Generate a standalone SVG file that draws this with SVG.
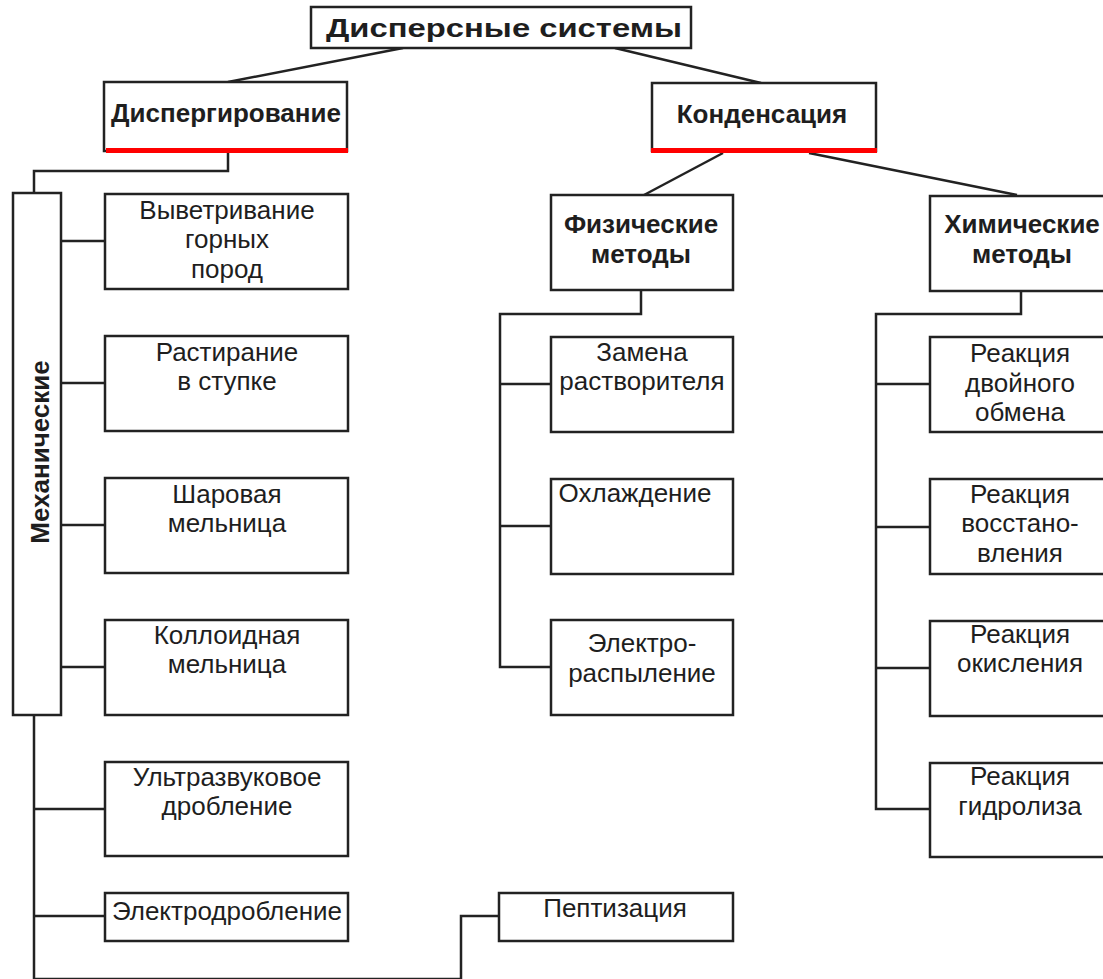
<svg xmlns="http://www.w3.org/2000/svg" width="1103" height="979" viewBox="0 0 1103 979">
<style>
.box{fill:#fff;stroke:#222;stroke-width:2.5}
.conn{fill:none;stroke:#222;stroke-width:2.5}
.red{fill:#ff0000}
.t{font-family:"Liberation Sans",Arial,sans-serif;font-size:26px;fill:#1e1e1e;text-anchor:middle}
.b{font-weight:bold}
</style>
<rect x="0" y="0" width="1103" height="979" fill="#fff"/>
<g id="connectors">
<line class="conn" x1="403" y1="48" x2="228" y2="82"/>
<line class="conn" x1="615" y1="48" x2="761" y2="83"/>
<polyline class="conn" points="228,153 228,171 34,171 34,193"/>
<line class="conn" x1="61" y1="241" x2="105" y2="241"/>
<line class="conn" x1="61" y1="383" x2="105" y2="383"/>
<line class="conn" x1="61" y1="525" x2="105" y2="525"/>
<line class="conn" x1="61" y1="667" x2="105" y2="667"/>
<polyline class="conn" points="34,715 34,979 461,979 461,916 499,916"/>
<line class="conn" x1="34" y1="809" x2="105" y2="809"/>
<line class="conn" x1="34" y1="916" x2="105" y2="916"/>
<line class="conn" x1="723" y1="153" x2="644" y2="195"/>
<line class="conn" x1="809" y1="153" x2="1017" y2="195"/>
<polyline class="conn" points="641,290 641,314 500,314 500,667 551,667"/>
<line class="conn" x1="500" y1="384" x2="551" y2="384"/>
<line class="conn" x1="500" y1="526" x2="551" y2="526"/>
<polyline class="conn" points="1021,291 1021,314 876,314 876,809 930,809"/>
<line class="conn" x1="876" y1="384" x2="930" y2="384"/>
<line class="conn" x1="876" y1="527" x2="930" y2="527"/>
<line class="conn" x1="876" y1="668" x2="930" y2="668"/>
</g>
<g id="n-root">
<rect class="box" x="311" y="7" width="380" height="41"/>
<text class="t b" x="504" y="37" font-size="32" textLength="356" lengthAdjust="spacingAndGlyphs">Дисперсные системы</text>
</g>
<g id="n-dispers">
<rect class="box" x="104" y="82" width="243" height="69"/>
<rect class="red" x="106" y="148" width="242" height="5"/>
<text class="t b" x="226" y="122">Диспергирование</text>
</g>
<g id="n-kond">
<rect class="box" x="652" y="83" width="224" height="68"/>
<rect class="red" x="651" y="148" width="226" height="5"/>
<text class="t b" x="762" y="123">Конденсация</text>
</g>
<g id="n-mech">
<rect class="box" x="13" y="193" width="48" height="522"/>
<text class="t b" transform="translate(49,452) rotate(-90)">Механические</text>
</g>
<g id="n-vyvetr">
<rect class="box" x="105" y="194" width="243" height="95"/>
<text class="t" x="227" y="219">Выветривание</text>
<text class="t" x="227" y="248">горных</text>
<text class="t" x="227" y="278">пород</text>
</g>
<g id="n-rastir">
<rect class="box" x="105" y="336" width="243" height="95"/>
<text class="t" x="227" y="361">Растирание</text>
<text class="t" x="227" y="390">в ступке</text>
</g>
<g id="n-shar">
<rect class="box" x="105" y="478" width="243" height="95"/>
<text class="t" x="227" y="503">Шаровая</text>
<text class="t" x="227" y="532">мельница</text>
</g>
<g id="n-koll">
<rect class="box" x="105" y="620" width="243" height="95"/>
<text class="t" x="227" y="644">Коллоидная</text>
<text class="t" x="227" y="673">мельница</text>
</g>
<g id="n-ultra">
<rect class="box" x="105" y="762" width="243" height="94"/>
<text class="t" x="227" y="786">Ультразвуковое</text>
<text class="t" x="227" y="815">дробление</text>
</g>
<g id="n-electrodrob">
<rect class="box" x="105" y="893" width="243" height="48"/>
<text class="t" x="227" y="920">Электродробление</text>
</g>
<g id="n-pept">
<rect class="box" x="499" y="893" width="234" height="48"/>
<text class="t" x="615" y="917">Пептизация</text>
</g>
<g id="n-phys">
<rect class="box" x="551" y="195" width="182" height="95"/>
<text class="t b" x="641" y="233">Физические</text>
<text class="t b" x="641" y="263">методы</text>
</g>
<g id="n-zamena">
<rect class="box" x="551" y="337" width="182" height="95"/>
<text class="t" x="642" y="361">Замена</text>
<text class="t" x="642" y="390">растворителя</text>
</g>
<g id="n-ohl">
<rect class="box" x="551" y="479" width="182" height="95"/>
<text class="t" x="635" y="502">Охлаждение</text>
</g>
<g id="n-electrorasp">
<rect class="box" x="551" y="620" width="182" height="95"/>
<text class="t" x="642" y="652">Электро-</text>
<text class="t" x="642" y="682">распыление</text>
</g>
<g id="n-chem">
<rect class="box" x="930" y="196" width="185" height="95"/>
<text class="t b" x="1022" y="233">Химические</text>
<text class="t b" x="1022" y="263">методы</text>
</g>
<g id="n-dvoin">
<rect class="box" x="930" y="337" width="185" height="95"/>
<text class="t" x="1020" y="362">Реакция</text>
<text class="t" x="1020" y="392">двойного</text>
<text class="t" x="1020" y="421">обмена</text>
</g>
<g id="n-vosst">
<rect class="box" x="930" y="479" width="185" height="95"/>
<text class="t" x="1020" y="503">Реакция</text>
<text class="t" x="1020" y="532">восстано-</text>
<text class="t" x="1020" y="562">вления</text>
</g>
<g id="n-okisl">
<rect class="box" x="930" y="621" width="185" height="95"/>
<text class="t" x="1020" y="643">Реакция</text>
<text class="t" x="1020" y="672">окисления</text>
</g>
<g id="n-gidrol">
<rect class="box" x="930" y="763" width="185" height="94"/>
<text class="t" x="1020" y="785">Реакция</text>
<text class="t" x="1020" y="815">гидролиза</text>
</g>
</svg>
